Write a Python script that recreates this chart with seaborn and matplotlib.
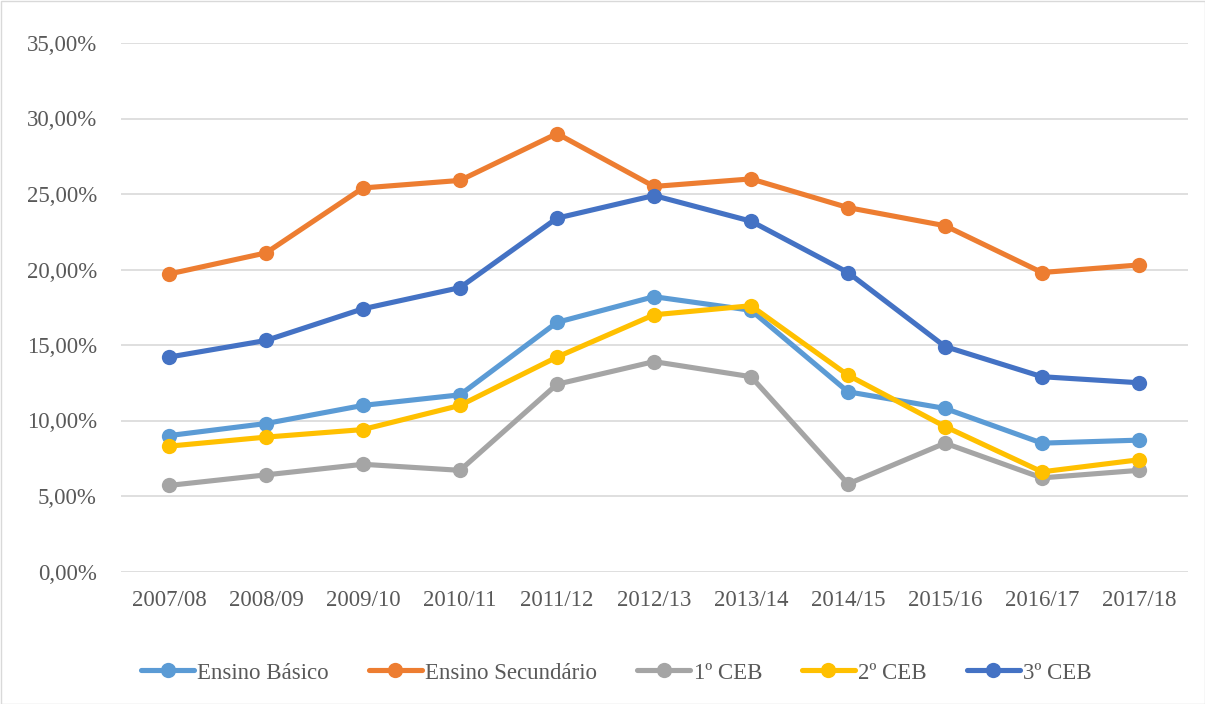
import matplotlib
matplotlib.use("Agg")
import matplotlib.pyplot as plt
import seaborn as sns
import pandas as pd
from matplotlib.ticker import FuncFormatter
from matplotlib.patches import Rectangle

years = ["2007/08", "2008/09", "2009/10", "2010/11", "2011/12", "2012/13",
         "2013/14", "2014/15", "2015/16", "2016/17", "2017/18"]
ensino_basico = [9.0, 9.8, 11.0, 11.7, 16.5, 18.2, 17.3, 11.9, 10.8, 8.5, 8.7]
ensino_secundario = [19.7, 21.1, 25.4, 25.9, 29.0, 25.5, 26.0, 24.1, 22.9, 19.8, 20.3]
ceb1 = [5.7, 6.4, 7.1, 6.7, 12.4, 13.9, 12.9, 5.8, 8.5, 6.2, 6.7]
ceb2 = [8.3, 8.9, 9.4, 11.0, 14.2, 17.0, 17.6, 13.0, 9.6, 6.6, 7.4]
ceb3 = [14.2, 15.3, 17.4, 18.8, 23.4, 24.9, 23.2, 19.8, 14.9, 12.9, 12.5]

series_names = ["Ensino Básico", "Ensino Secundário", "1º CEB", "2º CEB", "3º CEB"]
series_values = [ensino_basico, ensino_secundario, ceb1, ceb2, ceb3]
colors = ["#5b9bd5", "#ed7d31", "#a5a5a5", "#ffc000", "#4472c4"]

rows = []
for name, vals in zip(series_names, series_values):
    for y, v in zip(years, vals):
        rows.append({"Ano": y, "Valor": v, "Série": name})
df = pd.DataFrame(rows)

sns.set_theme(style="white")
plt.rcParams["font.family"] = ["Liberation Serif", "DejaVu Serif"]

fig = plt.figure(figsize=(12.05, 7.04), dpi=100)
ax = fig.add_axes([120.5 / 1205, 1 - 571.5 / 704, (1187.5 - 120.5) / 1205, (571.5 - 43) / 704])

LW = 3.7
MS = 11
sns.lineplot(data=df, x="Ano", y="Valor", hue="Série", hue_order=series_names,
             palette=colors, marker="o", markersize=MS, linewidth=LW,
             markeredgewidth=0, sort=False, ax=ax, legend=False)

ax.set_xlim(-0.5, len(years) - 0.5)
ax.set_ylim(0, 35)
ax.set_yticks([0, 5, 10, 15, 20, 25, 30, 35])
ax.yaxis.set_major_formatter(FuncFormatter(lambda v, p: f"{v:.2f}%".replace(".", ",")))
ax.grid(axis="y", color="#d9d9d9", linewidth=1.2)
ax.grid(axis="x", visible=False)
ax.set_axisbelow(True)
for s in ax.spines.values():
    s.set_visible(False)
ax.set_xlabel("")
ax.set_ylabel("")
ax.tick_params(axis="both", length=0, labelsize=16.5, labelcolor="#595959")
ax.tick_params(axis="y", pad=17)
ax.tick_params(axis="x", pad=13)

handles = [plt.Line2D([], [], color=c, marker="o", markersize=MS, linewidth=LW,
                      markeredgewidth=0) for c in colors]
fig.legend(handles, series_names, loc="center", bbox_to_anchor=(616.5 / 1205, 1 - 673 / 704),
           ncol=5, frameon=False, fontsize=16.5, labelcolor="#595959",
           handlelength=2.3, handletextpad=0.15, columnspacing=1.75)

fig.patches.append(Rectangle((0.5 / 1205, 0.5 / 704), 1 - 1 / 1205, 1 - 1 / 704,
                             transform=fig.transFigure, fill=False,
                             edgecolor="#d9d9d9", linewidth=1))

fig.savefig("out.png", dpi=100)
